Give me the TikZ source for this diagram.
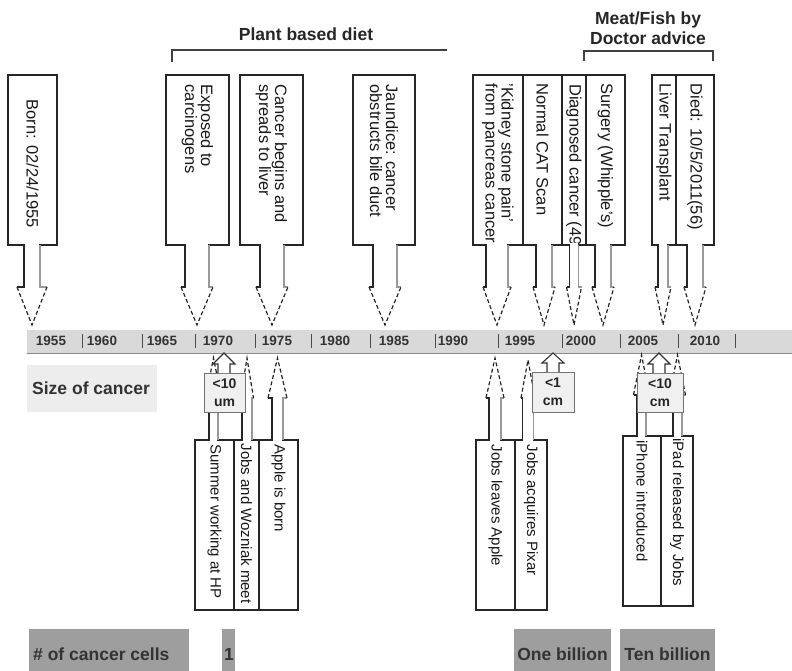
\documentclass[tikz,border=0pt]{standalone}
\usepackage{fontspec}
\setmainfont{Liberation Sans}
\usetikzlibrary{fit}

\tikzset{
  evbox/.style={draw=black!85, line width=1.2pt, fill=white, inner sep=0pt},
  vtext/.style={rotate=-90, anchor=west, inner sep=0pt, align=left, text=black!90},
  toptext/.style={vtext, font=\fontsize{16.5}{16}\selectfont},
  bottext/.style={vtext, font=\fontsize{15}{16}\selectfont},
  stemline/.style={draw=black!85, line width=1.2pt},
  stemlight/.style={draw=black!40, line width=1.2pt},
  headline/.style={draw=black!85, line width=1.2pt, dash pattern=on 4pt off 2.5pt},
  band/.style={fill=black!15, inner sep=0pt},
  yearlbl/.style={font=\bfseries\fontsize{13.5}{15}\selectfont, text=black!80, inner sep=0pt},
  tick/.style={draw=black!70, line width=1pt},
  headlbl/.style={font=\bfseries\fontsize{17.5}{20}\selectfont, text=black!85},
  bracket/.style={draw=black!75, line width=1.4pt},
  sizebox/.style={draw=black!55, line width=1pt, fill=black!6, inner sep=0pt},
  sizelbl/.style={font=\bfseries\fontsize{14}{18}\selectfont, text=black!85, align=center, inner sep=0pt},
  sizeline/.style={draw=black!80, line width=1.1pt, fill=white},
  tagpale/.style={fill=black!7, inner sep=0pt},
  tagdark/.style={fill=black!38, inner sep=0pt},
  taglbl/.style={font=\bfseries\fontsize{17.5}{20}\selectfont, text=black!80, inner sep=0pt}
}

% down callout under a top box: tip x, stem half width, head half width
\newcommand{\dncall}[3]{%
  \fill[white] (#1-#2+0.7,243) rectangle (#1+#2-0.7,247);
  \draw[stemline] (#1-#2,245) -- (#1-#2,287) -- (#1-#3,287);
  \draw[stemlight] (#1+#2,245) -- (#1+#2,287) -- (#1+#3,287);
  \draw[headline] (#1-#3,287) -- (#1,325) -- (#1+#3,287);
}
% up callout over a bottom box: x, stem hw, head hw, box top, head base, tip
\newcommand{\upcall}[6]{%
  \fill[white] (#1-#2+0.7,#4-2) rectangle (#1+#2-0.7,#4+2);
  \draw[stemline] (#1-#2,#4) -- (#1-#2,#5) -- (#1-#3,#5);
  \draw[stemlight] (#1+#2,#4) -- (#1+#2,#5) -- (#1+#3,#5);
  \draw[headline] (#1-#3,#5) -- (#1,#6) -- (#1+#3,#5);
}
% small solid arrow on a size box: x, box top, tip
\newcommand{\sizearrow}[3]{%
  \filldraw[sizeline] (#1-6,#2) -- (#1-6,#2-9) -- (#1-11,#2-9) -- (#1,#3)
    -- (#1+11,#2-9) -- (#1+6,#2-9) -- (#1+6,#2);
}

\begin{document}
\begin{tikzpicture}[x=1pt,y=-1pt]
  \useasboundingbox (0,0) rectangle (792,671);

  % diet periods
  \node[headlbl] (plant) at (306,34) {Plant based diet};
  \node[headlbl, align=center] (meat) at (648,28) {Meat/Fish by\\Doctor advice};
  \draw[bracket] (172,62) -- (172,50) -- (447,50);
  \draw[bracket] (584,61) -- (584,51) -- (713,51) -- (713,61);

  % time axis
  \node[band, fit={(27,330) (792,353)}] (axis) {};
  \draw[black!45, line width=1pt] (axis.south west) -- (axis.south east);
  \foreach \yr/\x in {1955/51,1960/102,1965/162,1970/218,1975/277,1980/335,
                      1985/394,1990/453,1995/520,2000/581,2005/643,2010/705}
    \node[yearlbl] (y\yr) at (\x,341) {\yr};
  \foreach \x in {82,142,195,255,311,370,435,498,562,620,678,735}
    \draw[tick] (\x,334) -- (\x,348);

  % events above the axis
  \node[evbox, fit={(8,75) (57,245)}] (born) {};
  \node[toptext] (borntxt) at ([yshift=-25pt]born.north) {Born: 02/24/1955};
  \dncall{32}{8}{15}

  \node[evbox, fit={(166,75) (229,245)}] (exposed) {};
  \node[toptext] (exposedtxt) at ([yshift=-10pt]exposed.north) {Exposed to\\carcinogens};
  \dncall{197}{12}{16}

  \node[evbox, fit={(240,75) (303,245)}] (begins) {};
  \node[toptext] (beginstxt) at ([yshift=-10pt]begins.north) {Cancer begins and\\spreads to liver};
  \dncall{272}{12}{16}

  \node[evbox, fit={(353,75) (415,245)}] (jaundice) {};
  \node[toptext] (jaundicetxt) at ([yshift=-10pt]jaundice.north) {Jaundice: cancer\\obstructs bile duct};
  \dncall{385}{12}{16}

  \node[evbox, fit={(473,75) (523,245)}] (kidney) {};
  \node[toptext] (kidneytxt) at ([yshift=-9pt]kidney.north) {'Kidney stone pain'\\from pancreas cancer};
  \dncall{497}{11}{14}

  \node[evbox, fit={(523,75) (562,245)}] (catscan) {};
  \node[toptext] (catscantxt) at ([yshift=-9pt]catscan.north) {Normal CAT Scan};
  \dncall{544}{8}{11}

  \node[evbox, fit={(562,75) (612,245)}] (diagnosed) {};
  \node[toptext] (diagnosedtxt) at (574,84) {Diagnosed cancer (49};
  \dncall{574}{4.5}{7.5}

  \node[evbox, fit={(586,75) (625,245)}] (surgery) {};
  \node[toptext] (surgerytxt) at ([yshift=-9pt]surgery.north) {Surgery (Whipple's)};
  \dncall{603}{8}{11}

  \node[evbox, fit={(652,75) (676,245)}] (liver) {};
  \node[toptext] (livertxt) at ([yshift=-9pt]liver.north) {Liver Transplant};
  \dncall{663}{5}{8}

  \node[evbox, fit={(676,75) (714,245)}] (died) {};
  \node[toptext] (diedtxt) at ([yshift=-9pt]died.north) {Died: 10/5/2011(56)};
  \dncall{695}{8}{11}

  % events below the axis
  \node[evbox, fit={(195,440) (234,610)}] (summer) {};
  \node[bottext] (summertxt) at ([yshift=-5pt]summer.north) {Summer working at HP};
  \node[evbox, fit={(234,440) (259,610)}] (meet) {};
  \node[bottext] (meettxt) at ([yshift=-4pt]meet.north) {Jobs and Wozniak meet};
  \node[evbox, fit={(259,440) (298,610)}] (apple) {};
  \node[bottext] (appletxt) at ([yshift=-5pt]apple.north) {Apple is born};
  \upcall{213.5}{4.5}{8}{440}{398}{358}
  \upcall{247}{5}{6.5}{440}{398}{358}
  \upcall{277.5}{5.5}{9.5}{440}{398}{358}

  \node[evbox, fit={(476,440) (515,610)}] (leaves) {};
  \node[bottext] (leavestxt) at ([yshift=-5pt]leaves.north) {Jobs leaves Apple};
  \node[evbox, fit={(515,440) (547,610)}] (pixar) {};
  \node[bottext] (pixartxt) at ([yshift=-5pt]pixar.north) {Jobs acquires Pixar};
  \upcall{495}{6}{9}{440}{398}{358}
  \upcall{528}{5.5}{7}{440}{398}{360}

  \node[evbox, fit={(623,436) (661,606)}] (iphone) {};
  \node[bottext] (iphonetxt) at ([yshift=-5pt]iphone.north) {iPhone introduced};
  \node[evbox, fit={(661,436) (693,606)}] (ipad) {};
  \node[bottext] (ipadtxt) at ([yshift=-3pt]ipad.north) {iPad released by Jobs};
  \upcall{641.5}{4.5}{8}{436}{395}{355}
  \upcall{677.5}{4.5}{8}{436}{395}{355}

  % size of the tumour
  \node[sizebox, fit={(204,373) (245,412)}] (um10) {};
  \node[sizelbl] at (um10.center) {<10\\um};
  \sizearrow{224}{373}{353}
  \node[sizebox, fit={(532,372) (574,412)}] (cm1) {};
  \node[sizelbl] at (cm1.center) {<1\\cm};
  \sizearrow{553}{372}{353}
  \node[sizebox, fit={(637,373) (683,412)}] (cm10) {};
  \node[sizelbl] at (cm10.center) {<10\\cm};
  \sizearrow{659}{373}{353}

  % row labels
  \node[tagpale, fit={(27,365) (157,412)}] (sizetag) {};
  \node[taglbl, anchor=west] (sizetxt) at (32,388) {Size of cancer};
  \node[tagdark, fit={(29,629) (189,671)}] (cellstag) {};
  \node[taglbl, anchor=west] (cellstxt) at (33,654) {\# of cancer cells};
  \node[tagdark, fit={(222,629) (235,671)}] (onetag) {};
  \node[taglbl] (onetxt) at (229,654) {1};
  \node[tagdark, fit={(514,629) (611,671)}] (billtag) {};
  \node[taglbl] (billtxt) at (billtag.center |- onetxt) {One billion};
  \node[tagdark, fit={(620,629) (715,671)}] (tenbilltag) {};
  \node[taglbl] (tenbilltxt) at (tenbilltag.center |- onetxt) {Ten billion};
\end{tikzpicture}
\end{document}
